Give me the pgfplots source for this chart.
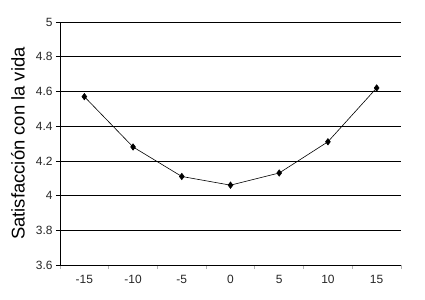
\documentclass[border=0pt]{standalone}
\usepackage{pgfplots}
\pgfplotsset{compat=1.18}
\usepackage{fontspec}
\setmainfont{Liberation Sans}
\begin{document}
\begin{tikzpicture}
\path[use as bounding box] (-60bp,-35bp) rectangle (365bp,265bp);
\begin{axis}[
  at={(0,0)}, anchor=south west,
  scale only axis,
  width=341bp, height=243bp,
  xmin=-0.5, xmax=6.5,
  ymin=3.6, ymax=5,
  xtick={0,...,6},
  xticklabels={-15,-10,-5,0,5,10,15},
  minor xtick={-0.5,0.5,...,6.5},
  major x tick style={draw=none},
  minor x tick style={draw=gray!60, line width=0.8pt},
  ytick={3.6,3.8,...,5.01},
  yticklabel style={/pgf/number format/fixed, /pgf/number format/precision=1},
  xticklabel style={yshift=-3bp},
  /pgf/number format/assume math mode=true,
  tick label style={font=\fontsize{12}{14}\selectfont, text=black!85},
  ymajorgrids,
  grid style={black, line width=0.7pt},
  axis x line*=bottom,
  axis y line*=left,
  axis line style={black, line width=0.8pt},
  tick align=outside,
  major tick length=4bp,
  minor tick length=4bp,
  y tick style={black, line width=0.7pt},
  ylabel={Satisfacción con la vida},
  every axis y label/.style={at={(rel axis cs:0,0.5)}, rotate=90, anchor=center, yshift=42bp, font=\fontsize{18.5}{22}\selectfont},
]
\addplot[black, line width=0.6pt, mark=diamond*, mark size=3.2pt] coordinates {
 (0,4.57) (1,4.28) (2,4.11) (3,4.06) (4,4.13) (5,4.31) (6,4.62)
};
\end{axis}
\end{tikzpicture}
\end{document}
